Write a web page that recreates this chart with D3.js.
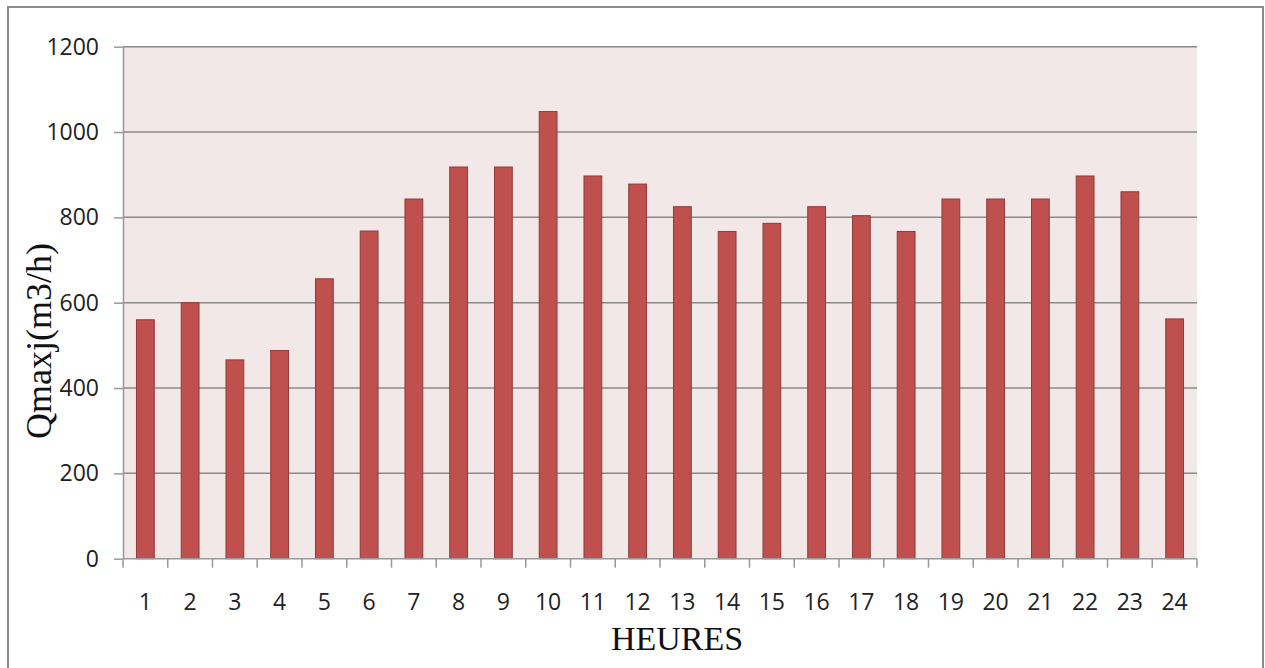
<!DOCTYPE html>
<html><head><meta charset="utf-8">
<script src="https://cdn.jsdelivr.net/npm/d3@7"></script>
<style>body{margin:0;background:#fff;}svg{display:block;}</style>
</head><body>
<script>
const hours = ["1","2","3","4","5","6","7","8","9","10","11","12","13","14","15","16","17","18","19","20","21","22","23","24"];
const qmax = [560,600,466,488,656,768,843,918,918,1048,897,878,825,767,786,825,804,767,843,843,843,897,860,562];
const yTicks = [0,200,400,600,800,1000,1200];

const W=1265,H=668;
const svg=d3.select("body").append("svg").attr("width",W).attr("height",H);
svg.append("rect").attr("x",8).attr("y",7).attr("width",1255).attr("height",670)
  .attr("fill","#fff").attr("stroke","#8c8c8c").attr("stroke-width",2);

const L=123,R=1197,T=46.7,B=558.7;
const x=d3.scaleBand().domain(hours).range([L,R]).paddingInner(0.58).paddingOuter(0.29);
const xb=d3.scaleBand().domain(hours).range([L,R]);
const y=d3.scaleLinear().domain([0,1200]).range([B,T]);

svg.append("rect").attr("x",L).attr("y",T).attr("width",R-L).attr("height",B-T).attr("fill","#f2e8e8");

svg.append("g").selectAll("line").data(yTicks.filter(d=>d>0)).join("line")
  .attr("x1",L).attr("x2",R).attr("y1",d=>y(d)).attr("y2",d=>y(d))
  .attr("stroke","#8a8a8a").attr("stroke-width",1.5);

svg.append("g").selectAll("rect").data(qmax).join("rect")
  .attr("x",(d,i)=>x(hours[i])+0.5).attr("width",x.bandwidth()-1)
  .attr("y",d=>y(d)).attr("height",d=>B-y(d))
  .attr("fill","#c0504d").attr("stroke","#8f3b39").attr("stroke-width",1);

// y axis
const ya=svg.append("g").attr("transform",`translate(${L},0)`)
  .call(d3.axisLeft(y).tickValues(yTicks).tickFormat(d3.format("d")).tickSize(9).tickPadding(15).tickSizeOuter(0));
ya.select(".domain").attr("stroke","#999").attr("stroke-width",1.5);
ya.selectAll(".tick line").attr("stroke","#999").attr("stroke-width",1.5);
ya.selectAll("text").attr("font-family","'Open Sans'").attr("font-size",23).attr("fill","#222");

// x axis
const boundaries=hours.map(h=>xb(h)).concat([R]);
svg.append("line").attr("x1",L).attr("x2",R).attr("y1",B).attr("y2",B).attr("stroke","#999").attr("stroke-width",1.5);
svg.append("g").selectAll("line").data(boundaries).join("line")
  .attr("x1",d=>d).attr("x2",d=>d).attr("y1",B).attr("y2",B+9).attr("stroke","#999").attr("stroke-width",1.5);
svg.append("g").selectAll("text").data(hours).join("text")
  .attr("x",d=>xb(d)+xb.bandwidth()/2).attr("y",610)
  .attr("text-anchor","middle").attr("font-family","'Open Sans'").attr("font-size",23).attr("fill","#222")
  .text(d=>d);

svg.append("text").attr("x",677).attr("y",650).attr("text-anchor","middle")
  .attr("font-family","'Liberation Serif'").attr("font-size",34).attr("fill","#111").text("HEURES");
svg.append("text").attr("transform","translate(51,341) rotate(-90)").attr("text-anchor","middle")
  .attr("font-family","'Liberation Serif'").attr("font-size",36).attr("fill","#111").text("Qmaxj(m3/h)");
</script>
</body></html>
